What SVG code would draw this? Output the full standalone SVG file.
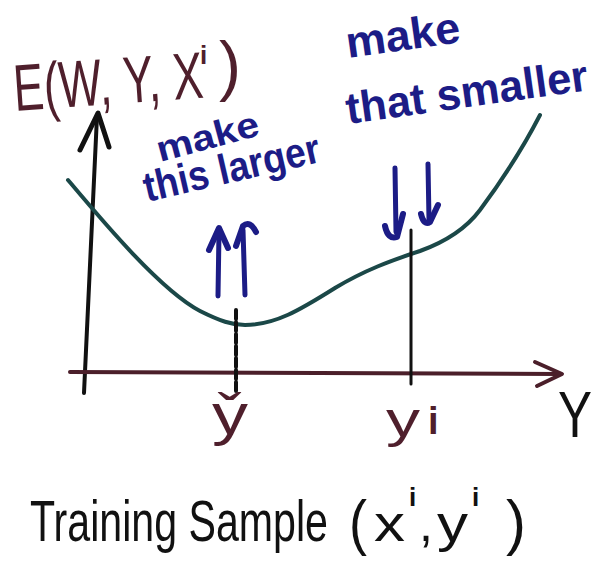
<svg xmlns="http://www.w3.org/2000/svg" width="611" height="561" viewBox="0 0 611 561">
  <style>
    .t { font-family: "Liberation Sans", "DejaVu Sans", sans-serif; }
    .maroon { fill: #4f1f2c; }
    .blue { fill: #1c1c86; font-weight: bold; }
    .black { fill: #111111; }
    .ln { fill: none; stroke-linecap: round; stroke-linejoin: round; }
  </style>
  <rect width="611" height="561" fill="#ffffff"/>

  <g id="connectors">
    <!-- vertical axis -->
    <path class="ln" d="M84,393 L97,116" stroke="#111" stroke-width="4"/>
    <path class="ln" d="M80,150 L98,113 L109,147" stroke="#111" stroke-width="5"/>
    <!-- horizontal axis -->
    <path class="ln" d="M70,372 L560,374" stroke="#4b1f2a" stroke-width="4"/>
    <path class="ln" d="M535,362 L562,374 L537,386" stroke="#4b1f2a" stroke-width="4"/>
    <!-- energy curve -->
    <path class="ln" d="M68,180 C100,218 160,290 200,311 C220,321 232,325 245,325 C275,325 300,310 335,288 C365,270 390,261 420,251 C445,242 465,230 480,210 C500,183 522,150 540,115" stroke="#1b4848" stroke-width="4"/>
    <!-- dashed line at y-check -->
    <path class="ln" d="M236,310 L236,394" stroke="#111" stroke-width="4" stroke-dasharray="9 3" stroke-linecap="butt"/>
    <!-- vertical line at y^i -->
    <path class="ln" d="M411,230 L411,384" stroke="#111" stroke-width="3"/>
    <!-- up arrows -->
    <path class="ln" d="M218,296 L219,232" stroke="#1c1c86" stroke-width="5"/>
    <path class="ln" d="M209,250 L219,228 L228,248" stroke="#1c1c86" stroke-width="6"/>
    <path class="ln" d="M245,295 L243,230" stroke="#1c1c86" stroke-width="5"/>
    <path class="ln" d="M236,246 L243,226 Q250,220 256,232" stroke="#1c1c86" stroke-width="6"/>
    <!-- down arrows -->
    <path class="ln" d="M395,168 L396,232" stroke="#1c1c86" stroke-width="5"/>
    <path class="ln" d="M385,226 Q388,240 397,237 L403,214" stroke="#1c1c86" stroke-width="6"/>
    <path class="ln" d="M428,164 L429,220" stroke="#1c1c86" stroke-width="5"/>
    <path class="ln" d="M421,214 Q424,226 430,222 L438,205" stroke="#1c1c86" stroke-width="6"/>
  </g>

  <g id="energy-label">
    <text class="t maroon" x="15" y="111" font-size="66" textLength="190" lengthAdjust="spacingAndGlyphs" transform="rotate(-4 15 111)">E(W, Y, X</text>
    <text class="t maroon" x="200" y="64" font-size="26" font-weight="bold">i</text>
    <text class="t maroon" x="219" y="88" font-size="66" textLength="22" lengthAdjust="spacingAndGlyphs">)</text>
  </g>

  <g id="make-larger">
    <text class="t blue" x="160" y="162" font-size="36" textLength="105" lengthAdjust="spacingAndGlyphs" transform="rotate(-15 160 162)">make</text>
    <text class="t blue" x="147" y="202" font-size="42" textLength="180" lengthAdjust="spacingAndGlyphs" transform="rotate(-13 147 202)">this larger</text>
  </g>

  <g id="make-smaller">
    <text class="t blue" x="348" y="58" font-size="44" textLength="115" lengthAdjust="spacingAndGlyphs" transform="rotate(-8 348 58)">make</text>
    <text class="t blue" x="348" y="124" font-size="44" textLength="244" lengthAdjust="spacingAndGlyphs" transform="rotate(-8 348 124)">that smaller</text>
  </g>

  <g id="y-check">
    <text class="t maroon" x="212" y="434" font-size="58" textLength="36" lengthAdjust="spacingAndGlyphs">y̌</text>
  </g>

  <g id="y-i">
    <text class="t maroon" x="386" y="437" font-size="50" textLength="34" lengthAdjust="spacingAndGlyphs">y</text>
    <text class="t maroon" x="428" y="434" font-size="38" font-weight="bold">i</text>
  </g>

  <g id="axis-y">
    <text class="t black" x="558" y="437" font-size="64" textLength="34" lengthAdjust="spacingAndGlyphs">Y</text>
  </g>

  <g id="training-sample">
    <text class="t black" x="30" y="541" font-size="58" textLength="298" lengthAdjust="spacingAndGlyphs">Training Sample</text>
    <text class="t black" x="349" y="543" font-size="62" textLength="18" lengthAdjust="spacingAndGlyphs">(</text>
    <text class="t black" x="374" y="541" font-size="52" textLength="31" lengthAdjust="spacingAndGlyphs">x</text>
    <text class="t black" x="409" y="506" font-size="26" font-weight="bold">i</text>
    <text class="t black" x="419" y="541" font-size="50">,</text>
    <text class="t black" x="437" y="541" font-size="52" textLength="31" lengthAdjust="spacingAndGlyphs">y</text>
    <text class="t black" x="472" y="506" font-size="26" font-weight="bold">i</text>
    <text class="t black" x="506" y="543" font-size="62" textLength="20" lengthAdjust="spacingAndGlyphs">)</text>
  </g>
</svg>
